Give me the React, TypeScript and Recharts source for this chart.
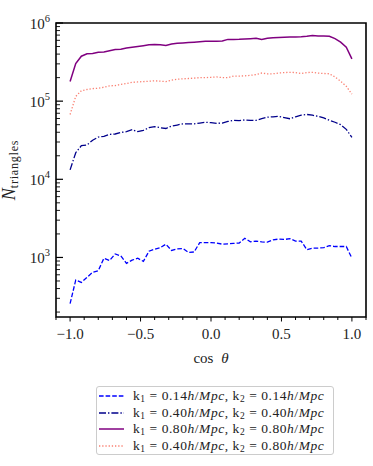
import { Line, LineChart, ReferenceArea, XAxis, YAxis } from "recharts";

const cosTheta = [
  -1.0, -0.96, -0.92, -0.88, -0.84, -0.8, -0.76, -0.72, -0.68, -0.64, -0.6, -0.56, -0.52, -0.48, -0.44, -0.4, -0.36,
  -0.32, -0.28, -0.24, -0.2, -0.16, -0.12, -0.08, -0.04, 0.0, 0.04, 0.08, 0.12, 0.16, 0.2, 0.24, 0.28, 0.32, 0.36, 0.4,
  0.44, 0.48, 0.52, 0.56, 0.6, 0.64, 0.68, 0.72, 0.76, 0.8, 0.84, 0.88, 0.92, 0.96, 1.0,
];

// k1 = 0.14, k2 = 0.14
const k014_014 = [
  257, 513, 479, 557, 646, 676, 977, 912, 1109, 1047, 841, 923, 977, 891, 1202, 1274, 1334, 1479, 1230, 1288, 1303, 1161,
  1175, 1549, 1549, 1549, 1531, 1479, 1496, 1514, 1531, 1758, 1585, 1622, 1585, 1567, 1679, 1718, 1698, 1738, 1622, 1622,
  1259, 1318, 1318, 1334, 1413, 1380, 1380, 1380, 977,
];

// k1 = 0.40, k2 = 0.40
const k040_040 = [
  13200, 21900, 26900, 27500, 31600, 34700, 35500, 37600, 38000, 39800, 40700, 43200, 40700, 42200, 45700, 47300, 45700,
  44700, 47900, 49500, 51300, 51300, 51300, 52500, 53700, 53100, 51900, 52500, 55000, 56900, 56200, 57500, 56900, 56900,
  59600, 62400, 63100, 63800, 61700, 59600, 63100, 66100, 67600, 66100, 63800, 61000, 56900, 53700, 50100, 43600, 34300,
];

// k1 = 0.80, k2 = 0.80
const k080_080 = [
  178000, 302000, 376000, 403000, 407000, 422000, 427000, 442000, 457000, 462000, 479000, 490000, 501000, 513000, 527000,
  531000, 525000, 515000, 537000, 550000, 556000, 562000, 569000, 575000, 582000, 585000, 582000, 589000, 617000, 617000,
  619000, 624000, 631000, 638000, 617000, 638000, 646000, 653000, 658000, 661000, 664000, 668000, 676000, 692000, 684000,
  684000, 676000, 631000, 569000, 490000, 347000,
];

// k1 = 0.40, k2 = 0.80
const k040_080 = [
  67600, 115000, 136000, 141000, 145000, 146000, 151000, 157000, 158000, 164000, 168000, 174000, 176000, 178000, 180000,
  182000, 180000, 178000, 186000, 191000, 193000, 195000, 197000, 200000, 200000, 202000, 204000, 200000, 200000, 209000,
  209000, 211000, 214000, 219000, 229000, 224000, 224000, 229000, 232000, 234000, 232000, 226000, 232000, 234000, 229000,
  226000, 224000, 204000, 180000, 155000, 123000,
];

const xTicks = [
  -1.1, -1.0, -0.9, -0.8, -0.7, -0.6, -0.5, -0.4, -0.3, -0.2, -0.1, 0.0, 0.1, 0.2, 0.3, 0.4, 0.5, 0.6, 0.7, 0.8, 0.9, 1.0,
  1.1,
];
const xMajorLabels: Record<string, string> = { "-1": "−1.0", "-0.5": "−0.5", "0": "0.0", "0.5": "0.5", "1": "1.0" };

const yTicks = [
  200, 300, 400, 500, 600, 700, 800, 900, 1000, 2000, 3000, 4000, 5000, 6000, 7000, 8000, 9000, 10000, 20000, 30000, 40000,
  50000, 60000, 70000, 80000, 90000, 100000, 200000, 300000, 400000, 500000, 600000, 700000, 800000, 900000, 1000000,
];

const X_DOMAIN: [number, number] = [-1.1, 1.1];
const Y_DOMAIN: [number, number] = [173, 1000000];

const SERIES = [
  { key: "s1", values: k014_014, color: "#0000ff", dash: "4.6 2", width: 1.3, k1: "0.14", k2: "0.14" },
  { key: "s2", values: k040_040, color: "#00008b", dash: "7 2 1.4 2", width: 1.3, k1: "0.40", k2: "0.40" },
  { key: "s3", values: k080_080, color: "#800080", dash: undefined, width: 1.5, k1: "0.80", k2: "0.80" },
  { key: "s4", values: k040_080, color: "#fa8072", dash: "1.3 1.9", width: 1.3, k1: "0.40", k2: "0.80" },
];

const rows = cosTheta.map((c, i) => {
  const row: Record<string, number> = { cosTheta: c };
  for (const s of SERIES) row[s.key] = s.values[i];
  return row;
});

const FONT = "'Liberation Serif', 'DejaVu Serif', serif";

function XTick(props: any) {
  const { x, y, payload } = props;
  const v = Math.round(payload.value * 10) / 10;
  const label = xMajorLabels[String(v)];
  return (
    <g>
      <line x1={x} x2={x} y1={y} y2={y + (label ? 4.5 : 3)} stroke="#000" strokeWidth={1} />
      {label ? (
        <text x={x} y={y + 22} textAnchor="middle" fontSize={15} fontFamily={FONT} fill="#222">
          {label}
        </text>
      ) : null}
    </g>
  );
}

function YTick(props: any) {
  const { x, y, payload } = props;
  const lg = Math.log10(payload.value);
  const exp = Math.round(lg);
  const major = Math.abs(lg - exp) < 1e-6;
  return (
    <g>
      <line x1={x} x2={x + (major ? 7 : 4)} y1={y} y2={y} stroke="#000" strokeWidth={major ? 1.2 : 0.9} />
      {major ? (
        <text x={x - 6} y={y + 5.5} textAnchor="end" fontSize={15} fontFamily={FONT} fill="#222">
          10
          <tspan dy={-6.5} fontSize={10.5}>
            {exp}
          </tspan>
        </text>
      ) : null}
    </g>
  );
}

function LegendRow({ s }: { s: (typeof SERIES)[number] }) {
  const sub = { fontSize: 9.5, verticalAlign: -2 } as const;
  return (
    <div style={{ display: "flex", alignItems: "center", height: 16.5 }}>
      <svg width={28} height={10} style={{ marginRight: 8 }}>
        <line x1={2} x2={27} y1={5} y2={5} stroke={s.color} strokeWidth={s.width} strokeDasharray={s.dash} />
      </svg>
      <span
        style={{ fontSize: 13.5, fontFamily: FONT, color: "#222", whiteSpace: "nowrap", letterSpacing: 0.55 }}
      >
        k<sub style={sub}>1</sub> = {s.k1}
        <i>h</i>/<i>Mpc</i>, k<sub style={sub}>2</sub> = {s.k2}
        <i>h</i>/<i>Mpc</i>
      </span>
    </div>
  );
}

export default function App() {
  return (
    <div style={{ position: "relative", width: 373, height: 466, background: "#fff" }}>
      <style>{`body{margin:0}`}</style>
      <div style={{ position: "absolute", left: 0, top: 0 }}>
        <LineChart width={373} height={366} data={rows} margin={{ top: 23, right: 7, left: 0, bottom: 0 }}>
          <XAxis
            dataKey="cosTheta"
            type="number"
            domain={X_DOMAIN}
            ticks={xTicks}
            interval={0}
            allowDataOverflow
            tickSize={0}
            tickMargin={0}
            tickLine={false}
            axisLine={false}
            tick={<XTick />}
            height={49}
            label={{
              content: () => (
                <text x={211} y={363} textAnchor="middle" fontSize={15} fontFamily={FONT} fill="#222">
                  cos <tspan fontStyle="italic" dx={4}>θ</tspan>
                </text>
              ),
            }}
          />
          <YAxis
            type="number"
            scale="log"
            domain={Y_DOMAIN}
            ticks={yTicks}
            interval={0}
            allowDataOverflow
            tickSize={0}
            tickMargin={0}
            tickLine={false}
            axisLine={false}
            tick={<YTick />}
            width={56}
            label={{
              content: () => (
                <text transform="translate(15,170) rotate(-90)" textAnchor="middle" fontFamily={FONT} fill="#222">
                  <tspan fontSize={18} fontStyle="italic">
                    N
                  </tspan>
                  <tspan fontSize={12} dy={3} letterSpacing={0.8}>
                    triangles
                  </tspan>
                </text>
              ),
            }}
          />
          <ReferenceArea
            x1={X_DOMAIN[0]}
            x2={X_DOMAIN[1]}
            y1={Y_DOMAIN[0]}
            y2={Y_DOMAIN[1]}
            fill="none"
            stroke="#000"
            strokeWidth={1.6}
            ifOverflow="visible"
          />
          {SERIES.map((s) => (
            <Line
              key={s.key}
              type="linear"
              dataKey={s.key}
              stroke={s.color}
              strokeWidth={s.width}
              strokeDasharray={s.dash}
              dot={false}
              activeDot={false}
              isAnimationActive={false}
            />
          ))}
        </LineChart>
      </div>
      <div
        style={{
          position: "absolute",
          left: 96,
          top: 386,
          width: 238,
          height: 69,
          boxSizing: "border-box",
          border: "1px solid #cccccc",
          borderRadius: 3,
          paddingTop: 1,
        }}
      >
        {SERIES.map((s) => (
          <LegendRow key={s.key} s={s} />
        ))}
      </div>
    </div>
  );
}
